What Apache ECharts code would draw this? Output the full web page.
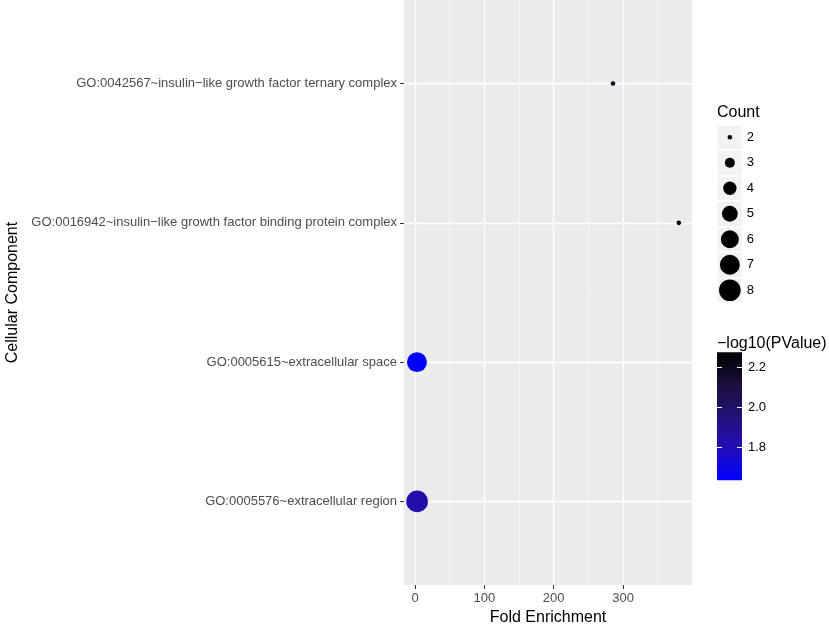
<!DOCTYPE html>
<html>
<head>
<meta charset="utf-8">
<script src="https://cdn.jsdelivr.net/npm/echarts@6.0.0/dist/echarts.min.js"></script>
<style>
  html, body { margin: 0; padding: 0; background: #fff; }
  #chart { width: 829px; height: 624px; }
</style>
</head>
<body>
<div id="chart"></div>
<script>
// GO cellular component enrichment, bottom to top like ggplot
const categories = [
  'GO:0005576~extracellular region',
  'GO:0005615~extracellular space',
  'GO:0016942~insulin\u2212like growth factor binding protein complex',
  'GO:0042567~insulin\u2212like growth factor ternary complex'
];
const foldEnrichment = [3.0, 2.8, 380.5, 285.5];
const counts = [8, 7, 2, 2];
const logP = [1.83, 1.638, 2.273, 2.2];

const xMajor = [0, 100, 200, 300];
const xMinor = [50, 150, 250, 350];
const countLevels = [2, 3, 4, 5, 6, 7, 8];
const pTicks = [1.8, 2.0, 2.2];
const pRange = [1.638, 2.273];

// blue -> black, roughly the Lab interpolation ggplot uses
const gradColors = ['#0000ff', 'rgb(34,14,185)', 'rgb(36,17,120)', 'rgb(27,15,60)', '#000000'];

const FONT = 'Liberation Sans, Arial, Helvetica, sans-serif';
const TICK_FS = 13;
const TITLE_FS = 16;

// ggplot area scale, size range 1..6
function sizeFor(c) {
  const s = Math.sqrt(1 + 35 * (c - 2) / 6);
  return 1.2 * (s * 2.845 + 0.945);
}

const points = categories.map((name, i) => [foldEnrichment[i], i, counts[i], logP[i]]);

const chart = echarts.init(document.getElementById('chart'));

const noLine = { show: false, onZero: false };

const option = {
  animation: false,
  textStyle: { fontFamily: FONT },
  title: [
    { text: 'Count', left: 717, top: 105, padding: 0, textStyle: { fontSize: TITLE_FS, fontWeight: 'normal', color: '#000', fontFamily: FONT } },
    { text: '\u2212log10(PValue)', left: 717, top: 336, padding: 0, textStyle: { fontSize: TITLE_FS, fontWeight: 'normal', color: '#000', fontFamily: FONT } }
  ],
  grid: [
    { left: 404, right: 137, top: 0, bottom: 39, show: true, backgroundColor: '#ebebeb', borderWidth: 0, outerBoundsMode: 'none' },
    { left: 718, top: 124.5, width: 23.7, height: 178.5, show: true, backgroundColor: '#f2f2f2', borderWidth: 0, outerBoundsMode: 'none' },
    {
      left: 717, top: 352.3, width: 25, height: 128, show: true, borderWidth: 0, outerBoundsMode: 'none',
      backgroundColor: {
        type: 'linear', x: 0, y: 1, x2: 0, y2: 0,
        colorStops: gradColors.map((c, i) => ({ offset: i / (gradColors.length - 1), color: c }))
      }
    }
  ],
  xAxis: [
    {
      type: 'value', gridIndex: 0, min: -15.9, max: 399.5,
      name: 'Fold Enrichment', nameLocation: 'middle', nameGap: 25,
      nameTextStyle: { fontSize: TITLE_FS, color: '#000', fontFamily: FONT },
      axisLine: noLine,
      axisTick: { show: true, length: 4, customValues: xMajor, lineStyle: { color: '#333', width: 1 } },
      axisLabel: { customValues: xMajor, margin: 7, fontSize: TICK_FS, color: '#4d4d4d', fontFamily: FONT },
      splitLine: { show: true, lineStyle: { color: '#fff', width: 1.3 } }
    },
    {
      type: 'value', gridIndex: 0, min: -15.9, max: 399.5, position: 'bottom',
      axisLine: noLine,
      axisTick: { show: false, customValues: xMinor },
      axisLabel: { show: false, customValues: xMinor },
      splitLine: { show: true, lineStyle: { color: '#fff', width: 0.6 } }
    },
    { type: 'value', gridIndex: 1, min: 0, max: 1, show: false },
    { type: 'value', gridIndex: 2, min: 0, max: 1, show: false }
  ],
  yAxis: [
    {
      type: 'value', gridIndex: 0, min: -0.6, max: 3.6,
      name: 'Cellular Component', nameLocation: 'middle', nameGap: 383, nameRotate: 90,
      nameTextStyle: { fontSize: TITLE_FS, color: '#000', fontFamily: FONT },
      axisLine: noLine,
      axisTick: { show: true, length: 4, customValues: [0, 1, 2, 3], lineStyle: { color: '#333', width: 1 } },
      axisLabel: {
        customValues: [0, 1, 2, 3], margin: 7, fontSize: TICK_FS, color: '#4d4d4d', fontFamily: FONT,
        formatter: v => categories[Math.round(v)]
      },
      splitLine: { show: true, lineStyle: { color: '#fff', width: 1.3 } }
    },
    {
      type: 'category', gridIndex: 1, inverse: true, position: 'right',
      data: countLevels.map(String),
      axisLine: noLine,
      axisTick: { show: false },
      axisLabel: { margin: 5, fontSize: TICK_FS, color: '#000', fontFamily: FONT },
      splitLine: { show: true, lineStyle: { color: '#fff', width: 1.6 } }
    },
    {
      type: 'value', gridIndex: 2, min: pRange[0], max: pRange[1], position: 'right',
      axisLine: noLine,
      axisTick: { show: true, inside: true, length: 5, customValues: pTicks, lineStyle: { color: '#fff', width: 1 } },
      axisLabel: { customValues: pTicks, margin: 6, fontSize: TICK_FS, color: '#000', fontFamily: FONT, formatter: v => v.toFixed(1) },
      splitLine: { show: false }
    },
    {
      type: 'value', gridIndex: 2, min: pRange[0], max: pRange[1], position: 'left',
      axisLine: noLine,
      axisTick: { show: true, inside: true, length: 5, customValues: pTicks, lineStyle: { color: '#fff', width: 1 } },
      axisLabel: { show: false },
      splitLine: { show: false }
    }
  ],
  visualMap: {
    show: false, type: 'continuous', seriesIndex: 0, dimension: 3,
    min: pRange[0], max: pRange[1],
    inRange: { color: gradColors }
  },
  series: [
    {
      type: 'scatter', xAxisIndex: 0, yAxisIndex: 0,
      data: points,
      symbolSize: v => sizeFor(v[2]),
      itemStyle: { opacity: 1 }
    },
    {
      type: 'scatter', xAxisIndex: 2, yAxisIndex: 1,
      data: countLevels.map((c, i) => [0.5, i, c]),
      symbolSize: v => sizeFor(v[2]),
      itemStyle: { color: '#000', opacity: 1 }
    }
  ]
};

chart.setOption(option);
</script>
</body>
</html>
